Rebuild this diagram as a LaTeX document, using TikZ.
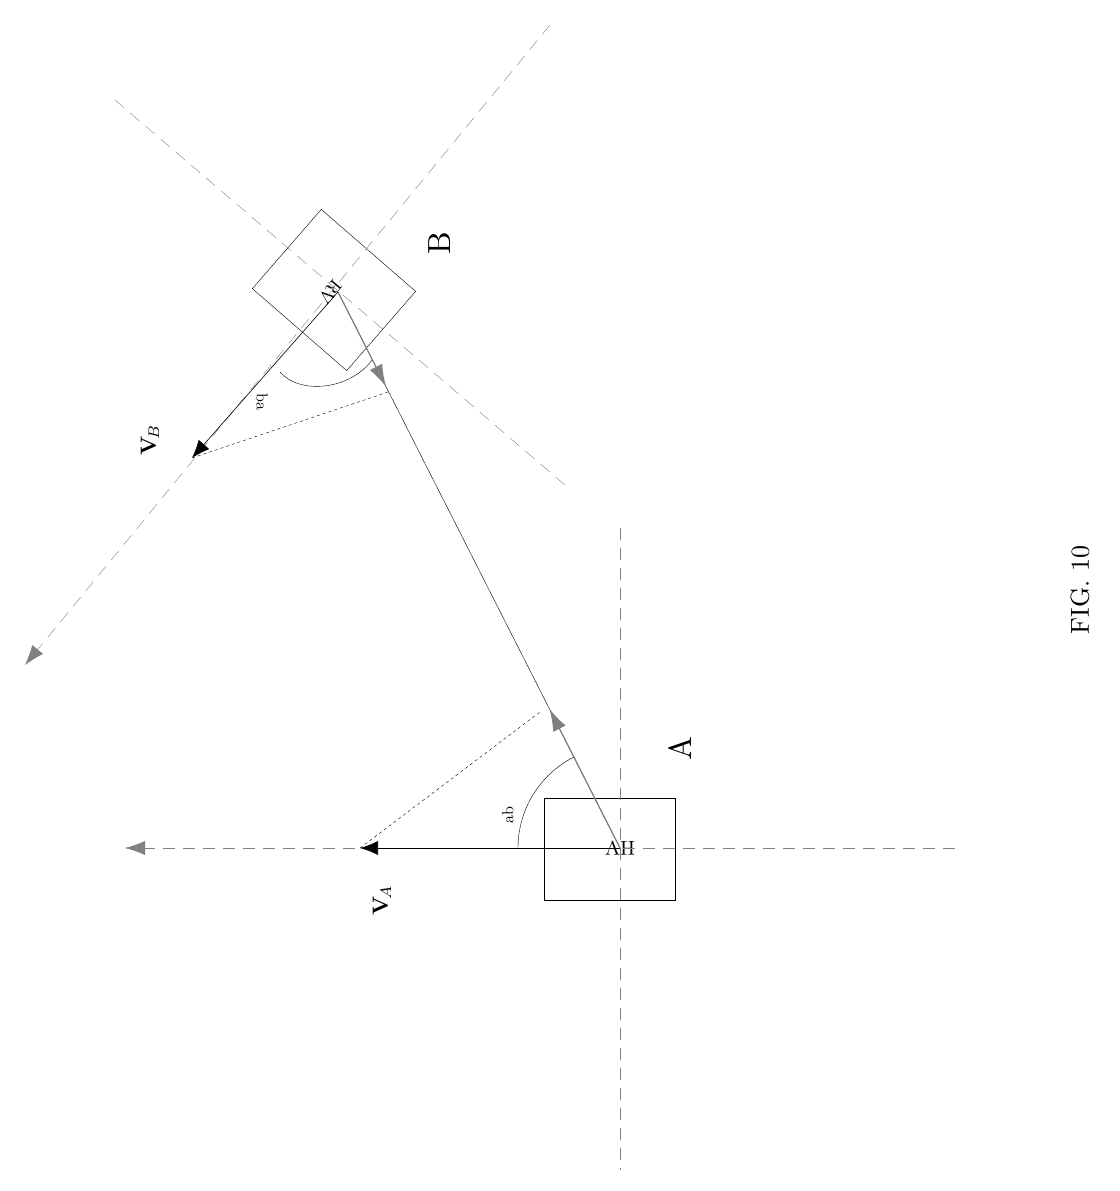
\documentclass[tikz,border=0pt]{standalone}
\usetikzlibrary{calc, arrows, arrows.meta}
\usepackage{amsmath}

\begin{document}
\begin{tikzpicture}[x=1pt,y=-1pt,
  axis/.style={gray,dash pattern=on 12pt off 8pt},
  sightarrow/.style={-{Latex[length=22pt,width=14pt]},gray,line width=1.2pt},
  velarrow/.style={-{Latex[length=18pt,width=14pt]},line width=0.6pt},
  axisarrow/.style={-{Latex[length=20pt,width=14pt]}}]
  \useasboundingbox (0,0) rectangle (1119,1191);
  % vehicles
  \node[draw,minimum width=131pt,minimum height=102pt,inner sep=0] (hv) at (610,849) {};
  \node[rotate=180,scale=2] (hvl) at (620,848) {HV};
  \node[draw,rotate=-41,minimum width=125pt,minimum height=105pt,inner sep=0] (rv) at (334,290) {};
  \node[rotate=-130,scale=1.8] (rvl) at (330,292) {RV};
  \coordinate (a) at (620,848);
  \coordinate (b) at (338,292);
  % axes
  \draw[axis] (620,528) -- (620,1170);
  \draw[axis,axisarrow] (955,848) -- (125,848);
  \draw[axis,axisarrow] (550,25) -- (25,665);
  \draw[axis] (115,100) -- (565,485);
  % velocities
  \draw[velarrow] (a) -- (360,848) coordinate (va);
  \draw[velarrow] (b) -- (192,458) coordinate (vb);
  \draw[dashed] (va) -- (540,712);
  \draw[dashed] (vb) -- (388,392);
  % line of sight
  \draw (a) -- (b);
  \draw[sightarrow] (a) -- ($(a)!0.25!(b)$);
  \draw[sightarrow] (b) -- ($(b)!0.17!(a)$);
  % angles
  \draw (518,848) arc[start angle=180,end angle=243,radius=102];
  \draw (280,372) .. controls (300,395) and (350,390) .. (372,360);
  % labels
  \node[rotate=90,scale=1.6] (ab) at (508,815) {ab};
  \node[rotate=-90,scale=1.6] (ba) at (262,402) {ba};
  \node[rotate=90,scale=2.2] (val) at (382,900) {$\mathbf{V}_{\!A}$};
  \node[rotate=90,scale=2.2] (vbl) at (150,440) {$\mathbf{V}_{\!B}$};
  \node[rotate=90,scale=3.2] (al) at (680,748) {A};
  \node[rotate=90,scale=3.2] (bl) at (440,243) {B};
  \node[rotate=90,scale=2.6] (fig) at (1080,590) {FIG. 10};
\end{tikzpicture}
\end{document}
